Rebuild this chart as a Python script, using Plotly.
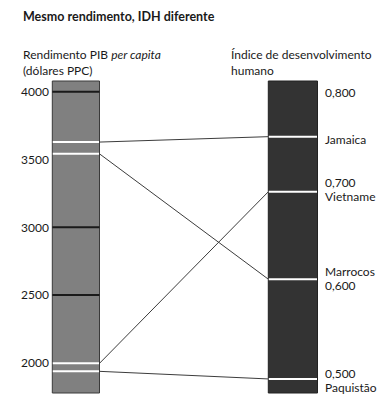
import plotly.graph_objects as go

countries = ["Jamaica", "Marrocos", "Vietname", "Paquistão"]
gdp = [3629, 3542, 1995, 1936]
hdi = [0.754, 0.604, 0.696, 0.499]

gdp_ticks = [2000, 2500, 3000, 3500, 4000]
gdp_tick_labels = ["2000", "2500", "3000", "3500", "4000"]
gdp_dark_lines = [2500, 3000, 4000]
hdi_ticks = [0.8, 0.7, 0.6, 0.5]
hdi_tick_labels = ["0,800", "0,700", "0,600", "0,500"]

GDP_RANGE = [1776, 4080]
HDI_RANGE = [0.4842, 0.8126]
LX0, LX1 = 52.3, 99.5
RX0, RX1 = 268.3, 317.5
FONT = "Lato"
PAGE_OFFSET = 8  # default body margin of the html page


def hdi_to_gdp(v):
    f = (v - HDI_RANGE[0]) / (HDI_RANGE[1] - HDI_RANGE[0])
    return GDP_RANGE[0] + f * (GDP_RANGE[1] - GDP_RANGE[0])


fig = go.Figure()

shapes = [
    dict(type="rect", xref="x", yref="paper", x0=LX0, x1=LX1, y0=0, y1=1,
         fillcolor="#808080", line=dict(color="#3a3a3a", width=1), layer="below"),
    dict(type="rect", xref="x", yref="paper", x0=RX0, x1=RX1, y0=0, y1=1,
         fillcolor="#333333", line=dict(color="#222222", width=1), layer="below"),
]
fig.update_layout(shapes=shapes)

for v in gdp_dark_lines:
    fig.add_trace(go.Scatter(x=[LX0, LX1], y=[v, v], mode="lines",
                             line=dict(color="#1a1a1a", width=2), yaxis="y",
                             hoverinfo="skip", showlegend=False))

for c, g, h in zip(countries, gdp, hdi):
    fig.add_trace(go.Scatter(x=[LX1, RX0], y=[g, hdi_to_gdp(h)], mode="lines",
                             line=dict(color="#3c3c3c", width=1), yaxis="y",
                             hoverinfo="skip", showlegend=False))

for g in gdp:
    fig.add_trace(go.Scatter(x=[LX0 + 0.5, LX1 - 0.5], y=[g, g], mode="lines",
                             line=dict(color="#ffffff", width=2), yaxis="y",
                             hoverinfo="skip", showlegend=False))
for h in hdi:
    fig.add_trace(go.Scatter(x=[RX0 + 0.5, RX1 - 0.5], y=[h, h], mode="lines",
                             line=dict(color="#ffffff", width=2), yaxis="y2",
                             hoverinfo="skip", showlegend=False))

ann = []


def py(p):
    return (393 - p) / 312.0


TXT = dict(size=12, color="#1a1a1a", family=FONT)
ann.append(dict(text="<b>Mesmo rendimento, IDH diferente</b>", x=21, xref="x",
                y=py(16), yref="paper", xanchor="left", yanchor="middle",
                showarrow=False, font=dict(size=12.5, color="#1a1a1a", family=FONT)))
ann.append(dict(text="Rendimento PIB <i>per capita</i>", x=21, xref="x",
                y=py(54.5), yref="paper", xanchor="left", yanchor="middle",
                showarrow=False, font=TXT))
ann.append(dict(text="(dólares PPC)", x=21, xref="x",
                y=py(70.5), yref="paper", xanchor="left", yanchor="middle",
                showarrow=False, font=TXT))
ann.append(dict(text="Índice de desenvolvimento", x=229, xref="x",
                y=py(54.5), yref="paper", xanchor="left", yanchor="middle",
                showarrow=False, font=TXT))
ann.append(dict(text="humano", x=229, xref="x",
                y=py(70.5), yref="paper", xanchor="left", yanchor="middle",
                showarrow=False, font=TXT))

for v, t in zip(gdp_ticks, gdp_tick_labels):
    ann.append(dict(text=t, x=50.5, xref="x", y=v, yref="y", xanchor="right",
                    yanchor="middle", showarrow=False, font=TXT))

hdi_shift = {0.8: 0, 0.7: 5, 0.6: -3, 0.5: 4}
for v, t in zip(hdi_ticks, hdi_tick_labels):
    ann.append(dict(text=t, x=322.5, xref="x", y=v, yref="y2", xanchor="left",
                    yanchor="middle", yshift=hdi_shift[v], showarrow=False,
                    font=TXT))

name_shift = {"Jamaica": -2.5, "Vietname": -5, "Marrocos": 8, "Paquistão": -9}
for c, h in zip(countries, hdi):
    ann.append(dict(text=c, x=322.5, xref="x", y=h, yref="y2", xanchor="left",
                    yanchor="middle", yshift=name_shift[c], showarrow=False,
                    font=TXT))

fig.update_layout(
    annotations=ann,
    width=388 - PAGE_OFFSET, height=404 - PAGE_OFFSET,
    margin=dict(l=0, r=0, t=81 - PAGE_OFFSET, b=11),
    paper_bgcolor="white", plot_bgcolor="rgba(0,0,0,0)",
    xaxis=dict(range=[PAGE_OFFSET, 388], visible=False, fixedrange=True),
    yaxis=dict(range=GDP_RANGE, visible=False, fixedrange=True),
    yaxis2=dict(range=HDI_RANGE, visible=False, overlaying="y", fixedrange=True),
    showlegend=False,
)

fig.write_html("out.html", config={"displayModeBar": False})
